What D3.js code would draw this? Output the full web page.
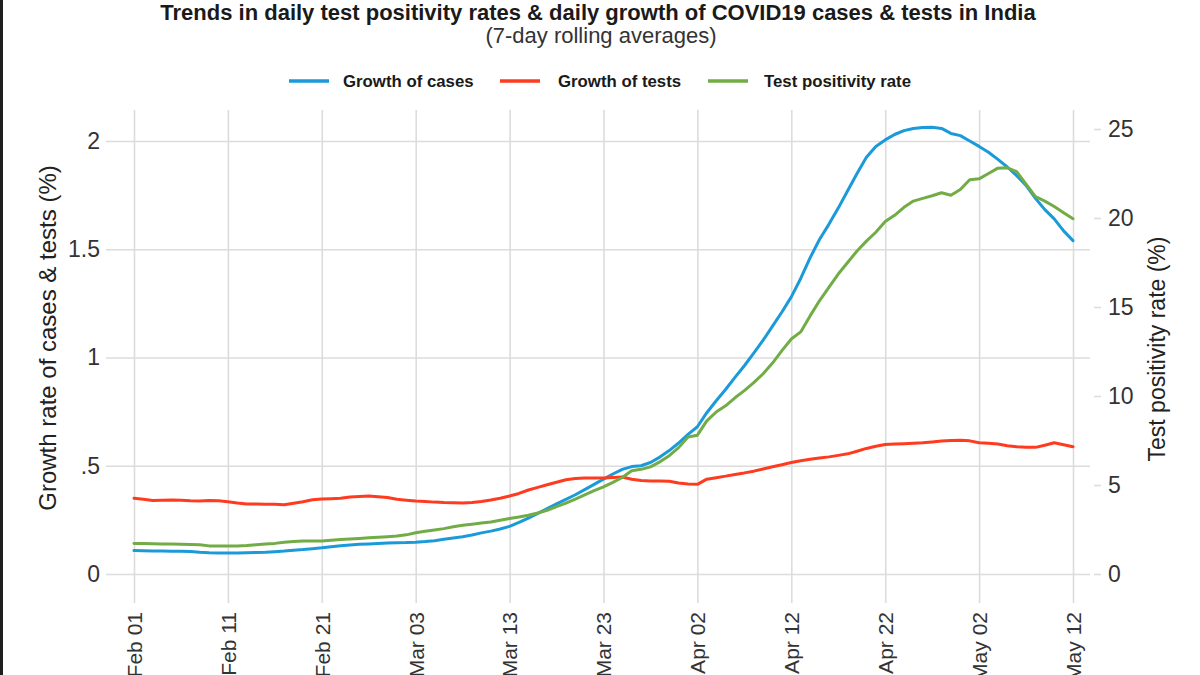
<!DOCTYPE html>
<html>
<head>
<meta charset="utf-8">
<script src="https://cdn.jsdelivr.net/npm/d3@7"></script>
<style>
  body { margin: 0; background: #fff; }
  svg { display: block; }
  text { font-family: Arial, "Liberation Sans", "Helvetica", sans-serif; }
</style>
</head>
<body>
<svg id="chart" width="1200" height="675"></svg>
<script>
// ---------------- DATA ----------------
const startDate = "2021-02-01";   // first day of the daily series (Feb 01 .. May 12)

// Daily growth of cases (%), 7-day rolling average — left axis
const casesGrowth = [
  0.108,0.107,0.106,0.106,0.105,0.105,0.104,0.100,0.098,0.097,
  0.097,0.097,0.098,0.099,0.100,0.103,0.106,0.110,0.113,0.117,
  0.121,0.126,0.130,0.134,0.137,0.139,0.141,0.143,0.144,0.145,
  0.147,0.150,0.154,0.160,0.166,0.172,0.180,0.190,0.198,0.208,
  0.220,0.238,0.258,0.280,0.302,0.324,0.345,0.366,0.390,0.414,
  0.438,0.462,0.483,0.496,0.500,0.515,0.540,0.570,0.605,0.645,
  0.680,0.745,0.800,0.852,0.908,0.962,1.020,1.080,1.145,1.210,
  1.280,1.365,1.460,1.545,1.615,1.690,1.770,1.850,1.925,1.975,
  2.005,2.030,2.048,2.058,2.062,2.063,2.058,2.035,2.025,2.000,
  1.975,1.948,1.915,1.880,1.840,1.795,1.735,1.683,1.640,1.585,
  1.540
];

// Daily growth of tests (%), 7-day rolling average — left axis
const testsGrowth = [
  0.350,0.345,0.340,0.341,0.342,0.341,0.338,0.337,0.339,0.338,
  0.334,0.328,0.323,0.323,0.322,0.322,0.320,0.327,0.334,0.343,
  0.346,0.348,0.350,0.356,0.358,0.360,0.357,0.353,0.345,0.341,
  0.337,0.335,0.332,0.330,0.329,0.328,0.330,0.335,0.342,0.350,
  0.360,0.372,0.388,0.400,0.412,0.424,0.435,0.441,0.443,0.443,
  0.443,0.446,0.448,0.438,0.432,0.430,0.430,0.428,0.420,0.416,
  0.414,0.438,0.445,0.452,0.460,0.467,0.475,0.485,0.495,0.505,
  0.515,0.523,0.530,0.536,0.541,0.548,0.555,0.567,0.580,0.590,
  0.598,0.600,0.602,0.604,0.606,0.610,0.614,0.617,0.618,0.615,
  0.606,0.604,0.600,0.592,0.588,0.586,0.585,0.595,0.606,0.597,
  0.588
];

// Test positivity rate (%), 7-day rolling average — right axis
const positivityRate = [
  1.72,1.71,1.70,1.69,1.68,1.67,1.66,1.64,1.58,1.57,
  1.57,1.58,1.60,1.64,1.68,1.72,1.78,1.82,1.85,1.85,
  1.86,1.90,1.94,1.97,2.00,2.03,2.06,2.09,2.13,2.20,
  2.32,2.40,2.47,2.55,2.65,2.74,2.80,2.86,2.92,3.02,
  3.12,3.20,3.30,3.43,3.58,3.78,3.98,4.20,4.44,4.68,
  4.90,5.15,5.42,5.80,5.88,6.02,6.30,6.65,7.10,7.70,
  7.80,8.60,9.10,9.45,9.90,10.30,10.75,11.25,11.85,12.55,
  13.20,13.60,14.50,15.35,16.10,16.85,17.50,18.15,18.70,19.20,
  19.80,20.15,20.60,20.95,21.10,21.25,21.42,21.28,21.60,22.15,
  22.20,22.50,22.80,22.82,22.60,21.90,21.20,20.95,20.65,20.30,
  19.96
];

const seriesNames  = ["Growth of cases", "Growth of tests", "Test positivity rate"];
const seriesColors = ["#1a9ad9", "#ff3b1f", "#72ac46"];

const xTickDates  = ["2021-02-01","2021-02-11","2021-02-21","2021-03-03","2021-03-13","2021-03-23",
                     "2021-04-02","2021-04-12","2021-04-22","2021-05-02","2021-05-12"];
const xTickLabels = ["Feb 01","Feb 11","Feb 21","Mar 03","Mar 13","Mar 23",
                     "Apr 02","Apr 12","Apr 22","May 02","May 12"];
const leftTicks       = [0, 0.5, 1, 1.5, 2];
const leftTickLabels  = ["0", ".5", "1", "1.5", "2"];
const rightTicks      = [0, 5, 10, 15, 20, 25];
const rightTickLabels = ["0", "5", "10", "15", "20", "25"];

const titleText    = "Trends in daily test positivity rates & daily growth of COVID19 cases & tests in India";
const subtitleText = "(7-day rolling averages)";
const leftTitle    = "Growth rate of cases & tests (%)";
const rightTitle   = "Test positivity rate (%)";

// ---------------- DRAWING ----------------
const parse = d3.timeParse("%Y-%m-%d");
const t0 = parse(startDate);
const dates = casesGrowth.map((_, i) => d3.timeDay.offset(t0, i));
const tickDates = xTickDates.map(parse);

const svg = d3.select("#chart");
svg.append("rect").attr("width", 1200).attr("height", 675).attr("fill", "#fff");
svg.append("rect").attr("x", 0).attr("y", 0).attr("width", 3).attr("height", 675).attr("fill", "#1e1e1e");

const x  = d3.scaleTime().domain([tickDates[0], tickDates[tickDates.length - 1]]).range([134, 1073]);
const yL = d3.scaleLinear().domain([0, 2]).range([574, 141]);
const yR = d3.scaleLinear().domain([0, 25]).range([574, 129]);

const gridColor = "#dcdcdc";

// vertical grid (with tick extension below)
const gx = svg.append("g")
  .attr("transform", "translate(0,603)")
  .call(d3.axisBottom(x).tickValues(tickDates).tickSize(-493).tickFormat((d, i) => xTickLabels[i]));
gx.select(".domain").remove();
gx.selectAll(".tick line").attr("stroke", gridColor).attr("stroke-width", 1.6);
gx.selectAll(".tick text")
  .attr("fill", "#333")
  .attr("font-size", 21)
  .attr("text-anchor", "end")
  .attr("transform", "translate(0,9) rotate(-90)")
  .attr("x", 0).attr("y", 0).attr("dy", "0.35em");

// horizontal grid from left axis
const gl = svg.append("g")
  .attr("transform", "translate(106,0)")
  .call(d3.axisLeft(yL).tickValues(leftTicks).tickSize(-984).tickPadding(6).tickFormat((d, i) => leftTickLabels[i]));
gl.select(".domain").remove();
gl.selectAll(".tick line").attr("stroke", gridColor).attr("stroke-width", 1.6);
gl.selectAll(".tick text").attr("fill", "#333").attr("font-size", 23);

// right axis: short ticks + labels
const gr = svg.append("g")
  .attr("transform", "translate(1094,0)")
  .call(d3.axisRight(yR).tickValues(rightTicks).tickSize(7).tickPadding(7).tickFormat((d, i) => rightTickLabels[i]));
gr.select(".domain").remove();
gr.selectAll(".tick line").attr("stroke", gridColor).attr("stroke-width", 1.6);
gr.selectAll(".tick text").attr("fill", "#333").attr("font-size", 23);

// lines
const lineL = d3.line().x((d, i) => x(dates[i])).y(d => yL(d)).curve(d3.curveLinear);
const lineR = d3.line().x((d, i) => x(dates[i])).y(d => yR(d)).curve(d3.curveLinear);

const series = [
  { values: casesGrowth,    gen: lineL, color: seriesColors[0] },
  { values: testsGrowth,    gen: lineL, color: seriesColors[1] },
  { values: positivityRate, gen: lineR, color: seriesColors[2] }
];
[0, 1, 2].forEach(k => {
  svg.append("path")
    .attr("d", series[k].gen(series[k].values))
    .attr("fill", "none")
    .attr("stroke", series[k].color)
    .attr("stroke-width", 3)
    .attr("stroke-linejoin", "round")
    .attr("stroke-linecap", "round");
});

// titles
svg.append("text").attr("x", 598).attr("y", 20).attr("text-anchor", "middle")
  .attr("font-size", 22).attr("font-weight", "bold").attr("fill", "#1a1a1a").text(titleText);
svg.append("text").attr("x", 601).attr("y", 43).attr("text-anchor", "middle")
  .attr("font-size", 22).attr("fill", "#333").text(subtitleText);

// axis titles
svg.append("text").attr("transform", "translate(56,338) rotate(-90)").attr("text-anchor", "middle")
  .attr("font-size", 24).attr("fill", "#222").text(leftTitle);
svg.append("text").attr("transform", "translate(1165,349) rotate(-90)").attr("text-anchor", "middle")
  .attr("font-size", 23).attr("fill", "#222").text(rightTitle);

// legend
const legendItems = [
  { x1: 289, tx: 343 },
  { x1: 500, tx: 558 },
  { x1: 708, tx: 764 }
];
const legend = svg.append("g");
legendItems.forEach((it, i) => {
  legend.append("line").attr("x1", it.x1).attr("x2", it.x1 + 40).attr("y1", 81).attr("y2", 81)
    .attr("stroke", seriesColors[i]).attr("stroke-width", 3.5);
  legend.append("text").attr("x", it.tx).attr("y", 81).attr("dy", "0.35em")
    .attr("font-size", 16.8).attr("font-weight", "bold").attr("fill", "#1a1a1a").text(seriesNames[i]);
});
</script>
</body>
</html>
